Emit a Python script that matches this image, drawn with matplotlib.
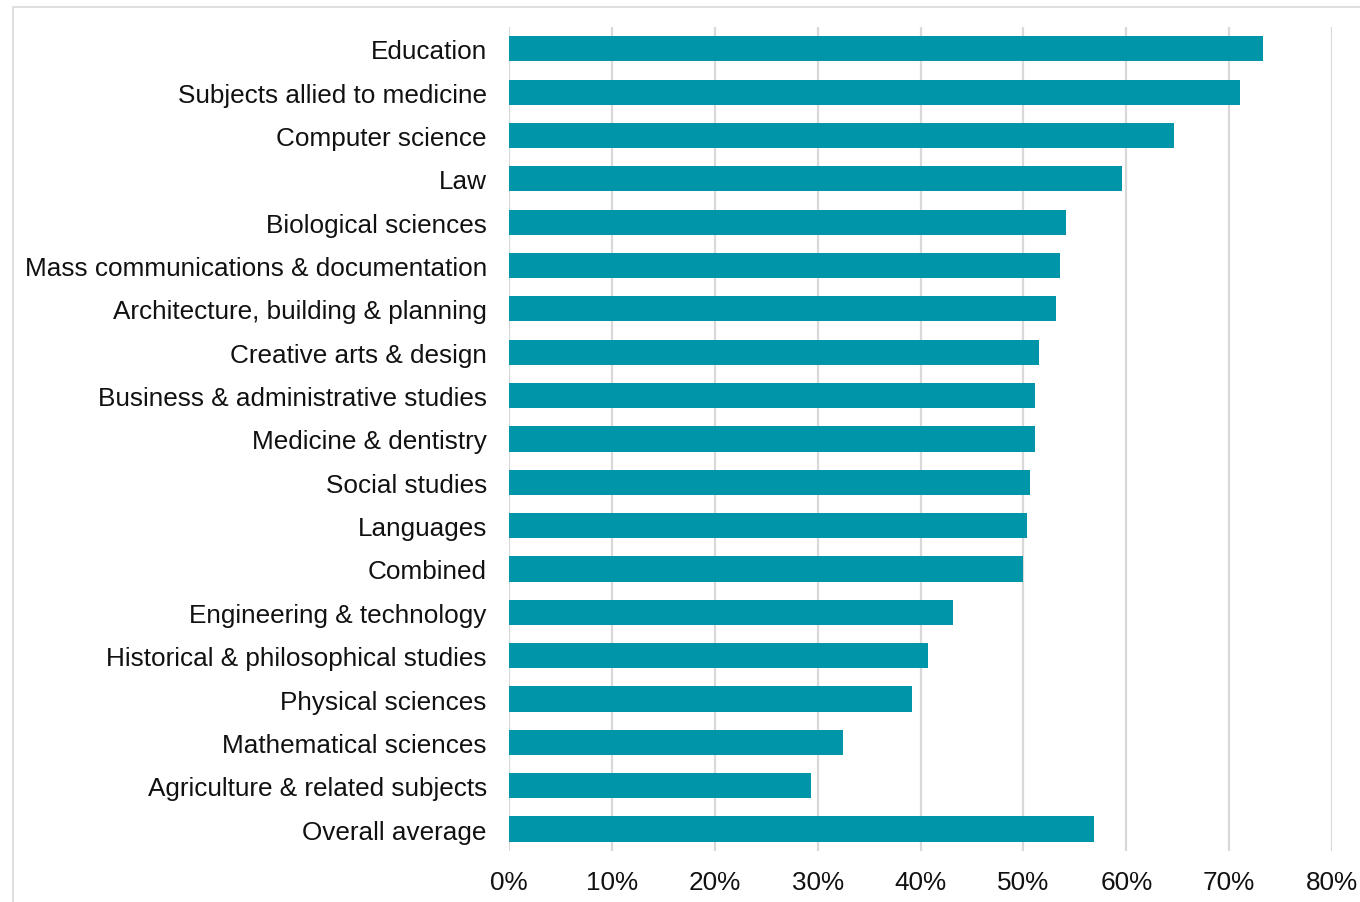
import matplotlib.pyplot as plt
from matplotlib.patches import Rectangle
from matplotlib.ticker import PercentFormatter

plt.rcParams['font.family'] = ['Liberation Sans', 'DejaVu Sans']

subjects = [
    "Education",
    "Subjects allied to medicine",
    "Computer science",
    "Law",
    "Biological sciences",
    "Mass communications & documentation",
    "Architecture, building & planning",
    "Creative arts & design",
    "Business & administrative studies",
    "Medicine & dentistry",
    "Social studies",
    "Languages",
    "Combined",
    "Engineering & technology",
    "Historical & philosophical studies",
    "Physical sciences",
    "Mathematical sciences",
    "Agriculture & related subjects",
    "Overall average",
]
rates = [0.733, 0.711, 0.646, 0.596, 0.541, 0.536, 0.532, 0.515, 0.511, 0.511,
         0.506, 0.504, 0.500, 0.432, 0.407, 0.392, 0.325, 0.294, 0.569]
xticks = [0, 0.1, 0.2, 0.3, 0.4, 0.5, 0.6, 0.7, 0.8]

bar_color = '#0095a8'
grid_color = '#d9d9d9'

fig = plt.figure(figsize=(13.6, 9.03), dpi=100)
ax = fig.add_axes([0.3743, 0.0568, 0.6051, 0.912])

# light frame around the chart area (runs off the right and bottom edges)
fig.patches.append(Rectangle((13 / 1360, -0.01), 1.0, 1.0011,
                             transform=fig.transFigure, fill=False,
                             edgecolor=grid_color, linewidth=1.2))

pos = list(range(len(subjects)))
ax.barh(pos, rates, height=0.58, color=bar_color, zorder=3)

ax.set_ylim(len(subjects) - 0.5, -0.5)
ax.set_yticks(pos)
ax.set_yticklabels(subjects)
ax.set_xlim(0, 0.8)
ax.set_xticks(xticks)
ax.xaxis.set_major_formatter(PercentFormatter(1.0, decimals=0))

ax.grid(axis='x', color=grid_color, linewidth=1.6, zorder=0)
for s in ax.spines.values():
    s.set_visible(False)
ax.tick_params(axis='y', length=0, pad=16, labelsize=18.8, colors='#111111')
ax.tick_params(axis='x', length=0, pad=14, labelsize=18.8, colors='#111111')

fig.savefig('out.png', dpi=100)
